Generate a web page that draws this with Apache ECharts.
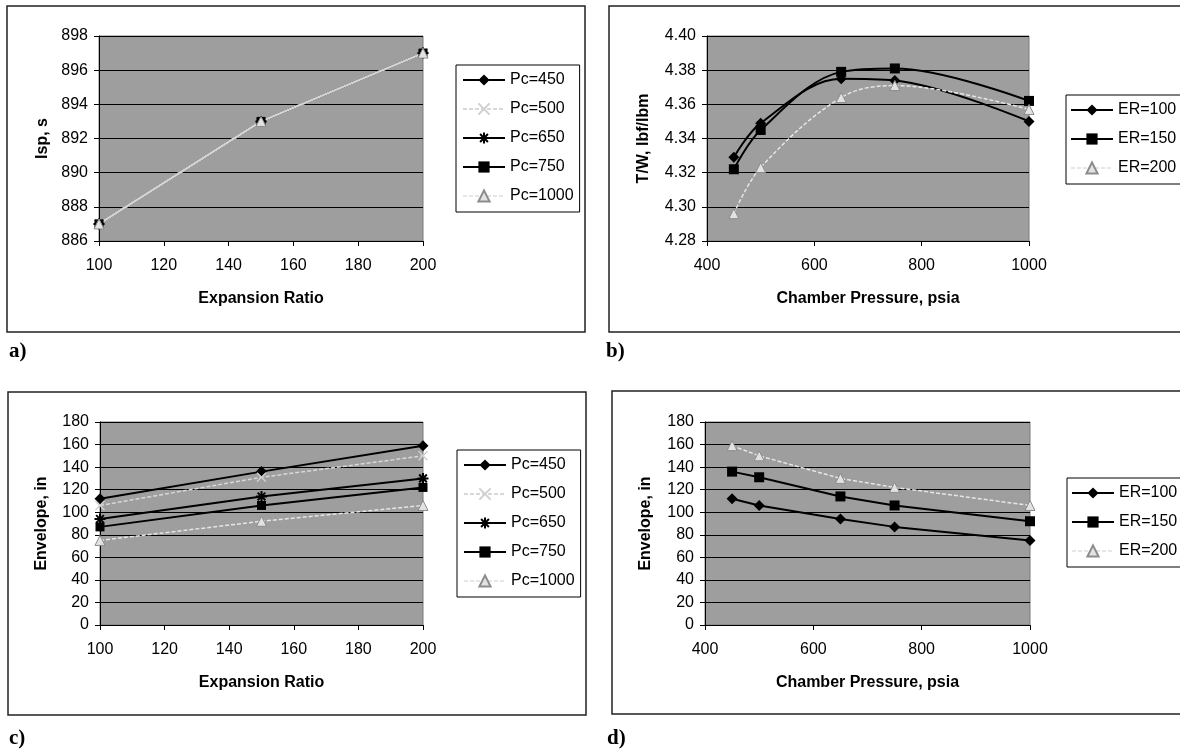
<!DOCTYPE html>
<html>
<head>
<meta charset="utf-8">
<script src="https://cdn.jsdelivr.net/npm/echarts@6/dist/echarts.min.js"></script>
<style>
  html, body { margin: 0; padding: 0; background: #ffffff; }
  #chart { width: 1180px; height: 753px; }
</style>
</head>
<body>
<div id="chart"></div>
<script>
// ---------------- DATA ----------------
// Panel a) Isp vs expansion ratio
const expansionRatios = [100, 150, 200];
const ispPc450 = [887, 893, 897];
const ispPc500 = [887, 893, 897];
const ispPc650 = [887, 893, 897];
const ispPc750 = [887, 893, 897];
const ispPc1000 = [887, 893, 897];

// Panel b) T/W vs chamber pressure
const chamberPressures = [450, 500, 650, 750, 1000];
const twEr100 = [4.329, 4.349, 4.375, 4.374, 4.350];
const twEr150 = [4.322, 4.345, 4.379, 4.381, 4.362];
const twEr200 = [4.296, 4.323, 4.364, 4.371, 4.357];

// Panel c) Envelope vs expansion ratio
const envPc450 = [112, 136, 159];
const envPc500 = [106, 131, 150];
const envPc650 = [94, 114, 130];
const envPc750 = [87, 106, 122];
const envPc1000 = [75, 92, 106];

// Panel d) Envelope vs chamber pressure
const envEr100 = [112, 106, 94, 87, 75];
const envEr150 = [136, 131, 114, 106, 92];
const envEr200 = [159, 150, 130, 122, 106];

// Names / labels
const pcNames = ['Pc=450', 'Pc=500', 'Pc=650', 'Pc=750', 'Pc=1000'];
const erNames = ['ER=100', 'ER=150', 'ER=200'];
const panelLabels = ['a)', 'b)', 'c)', 'd)'];

// ---------------- STYLES ----------------
const crossPath = 'path://M0,0L10,10M10,0L0,10';
const starPath = 'path://M5,0L5,10M0,5L10,5M1.5,1.5L8.5,8.5M8.5,1.5L1.5,8.5';
const styleFor = {
  'Pc=450': { symbol: 'diamond', size: 11, color: '#000', line: '#000', type: 'solid', width: 2 },
  'Pc=500': { symbol: crossPath, size: 9, color: 'none', border: '#d0d0d0', bw: 1.5, line: '#d8d8d8', type: [4, 2], width: 1.5 },
  'Pc=650': { symbol: starPath, size: 11, color: 'none', border: '#000', bw: 2, line: '#000', type: 'solid', width: 2 },
  'Pc=750': { symbol: 'rect', size: 9, color: '#000', line: '#000', type: 'solid', width: 2 },
  'Pc=1000': { symbol: 'triangle', size: 10, color: '#e2e2e2', border: '#8c8c8c', bw: 1, line: '#e6e6e6', type: [4, 2], width: 1.5 },
  'ER=100': { symbol: 'diamond', size: 11, color: '#000', line: '#000', type: 'solid', width: 2 },
  'ER=150': { symbol: 'rect', size: 10, color: '#000', line: '#000', type: 'solid', width: 2 },
  'ER=200': { symbol: 'triangle', size: 10, color: '#e2e2e2', border: '#8c8c8c', bw: 1, line: '#e6e6e6', type: [4, 2], width: 1.5 }
};

function mkSeries(name, xs, ys, idx, smooth, lineOverride) {
  const s = styleFor[name];
  const ls = Object.assign({ color: s.line, width: s.width, type: s.type }, lineOverride || {});
  return {
    type: 'line',
    name: name,
    xAxisIndex: idx,
    yAxisIndex: idx,
    data: xs.map((x, i) => [x, ys[i]]),
    smooth: smooth ? 0.35 : false,
    symbol: s.symbol,
    symbolSize: s.size,
    showAllSymbol: true,
    clip: false,
    lineStyle: ls,
    itemStyle: {
      color: s.color === 'none' ? 'rgba(0,0,0,0)' : s.color,
      borderColor: s.border || s.color,
      borderWidth: s.bw || 0
    },
    emphasis: { disabled: true },
    animation: false
  };
}

const grids = [
  { left: 99, top: 36, width: 324, height: 205 },
  { left: 707, top: 36, width: 322, height: 205 },
  { left: 100, top: 422, width: 323, height: 203 },
  { left: 705, top: 422, width: 325, height: 203 }
];

const fam = 'Liberation Sans, Arial, sans-serif';
const axisFont = { color: '#000', fontFamily: fam, fontSize: 16 };
const titleFont = { color: '#000', fontFamily: fam, fontSize: 16, fontWeight: 'bold' };

function xAx(idx, name, min, max, interval) {
  return {
    type: 'value', gridIndex: idx, min: min, max: max, interval: interval,
    name: name, nameLocation: 'middle', nameGap: 50, nameTextStyle: titleFont,
    axisLine: { show: true, lineStyle: { color: '#000', width: 1 } },
    axisTick: { show: true, length: 5, lineStyle: { color: '#000' } },
    axisLabel: Object.assign({ margin: 17, formatter: v => String(v) }, axisFont),
    splitLine: { show: false }
  };
}
function yAx(idx, name, min, max, interval, gap, fmt) {
  return {
    type: 'value', gridIndex: idx, min: min, max: max, interval: interval,
    name: name, nameLocation: 'middle', nameGap: gap, nameTextStyle: titleFont,
    axisLine: { show: true, lineStyle: { color: '#000', width: 1 } },
    axisTick: { show: true, length: 5, lineStyle: { color: '#000' } },
    axisLabel: Object.assign({ margin: 11, formatter: fmt }, axisFont),
    splitLine: { show: true, lineStyle: { color: '#000', width: 1 } }
  };
}

function legendAt(left, top, names, padLeft) {
  return {
    orient: 'vertical', left: left, top: top,
    data: names,
    backgroundColor: '#fff', borderColor: '#000', borderWidth: 1,
    padding: [7, 6, 8, padLeft],
    itemWidth: 42, itemHeight: 14, itemGap: 13,
    textStyle: { color: '#000', fontFamily: fam, fontSize: 16, lineHeight: 16 },
    selectedMode: false
  };
}

// Panel c is listed first so the shared legends take their icons from its styled series.
const series = [];
const envPcData = [envPc450, envPc500, envPc650, envPc750, envPc1000];
pcNames.forEach((n, i) => series.push(mkSeries(n, expansionRatios, envPcData[i], 2, false)));
const envErData = [envEr100, envEr150, envEr200];
erNames.forEach((n, i) => series.push(mkSeries(n, chamberPressures, envErData[i], 3, false)));
const ispData = [ispPc450, ispPc500, ispPc650, ispPc750, ispPc1000];
pcNames.forEach((n, i) => series.push(mkSeries(n, expansionRatios, ispData[i], 0, false,
  n === 'Pc=1000' ? { type: 'solid', width: 2.5, color: '#d4d4d4' } : null)));
const twData = [twEr100, twEr150, twEr200];
erNames.forEach((n, i) => series.push(mkSeries(n, chamberPressures, twData[i], 1, true)));

const frameStyle = { fill: 'none', stroke: '#222', lineWidth: 1.5 };
const labelFont = 'bold 21px "Liberation Serif", "Times New Roman", serif';

const option = {
  animation: false,
  backgroundColor: '#fff',
  grid: grids.map(g => Object.assign({ show: true, backgroundColor: '#9e9e9e', borderColor: '#7a7a7a', borderWidth: 1 }, g)),
  xAxis: [
    xAx(0, 'Expansion Ratio', 100, 200, 20),
    xAx(1, 'Chamber Pressure, psia', 400, 1000, 200),
    xAx(2, 'Expansion Ratio', 100, 200, 20),
    xAx(3, 'Chamber Pressure, psia', 400, 1000, 200)
  ],
  yAxis: [
    yAx(0, 'Isp, s', 886, 898, 2, 48, v => String(v)),
    yAx(1, 'T/W, lbf/lbm', 4.28, 4.40, 0.02, 55, v => v.toFixed(2)),
    yAx(2, 'Envelope, in', 0, 180, 20, 50, v => String(v)),
    yAx(3, 'Envelope, in', 0, 180, 20, 51, v => String(v))
  ],
  legend: [
    legendAt(456, 65, pcNames, 6),
    legendAt(1066, 95, erNames, 4),
    legendAt(457, 450, pcNames, 6),
    legendAt(1067, 478, erNames, 4)
  ],
  series: series,
  graphic: [
    { type: 'rect', shape: { x: 7, y: 6, width: 578, height: 326 }, style: frameStyle, silent: true },
    { type: 'rect', shape: { x: 609, y: 6, width: 600, height: 326 }, style: frameStyle, silent: true },
    { type: 'rect', shape: { x: 8, y: 392, width: 578, height: 323 }, style: frameStyle, silent: true },
    { type: 'rect', shape: { x: 612, y: 391, width: 600, height: 323 }, style: frameStyle, silent: true },
    { type: 'text', left: 9, top: 341, style: { text: panelLabels[0], font: labelFont, fill: '#000' } },
    { type: 'text', left: 606, top: 341, style: { text: panelLabels[1], font: labelFont, fill: '#000' } },
    { type: 'text', left: 9, top: 728, style: { text: panelLabels[2], font: labelFont, fill: '#000' } },
    { type: 'text', left: 607, top: 728, style: { text: panelLabels[3], font: labelFont, fill: '#000' } }
  ]
};

const chart = echarts.init(document.getElementById('chart'), null, { renderer: 'canvas' });
chart.setOption(option);
</script>
</body>
</html>
